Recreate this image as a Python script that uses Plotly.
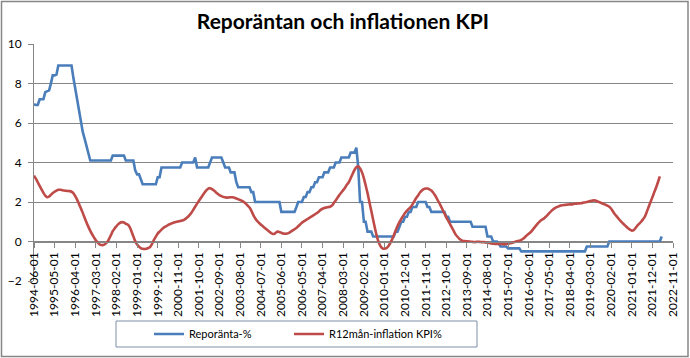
import plotly.graph_objects as go
import pandas as pd

TITLE = "Reporäntan och inflationen KPI"
SERIES_NAMES = ["Reporänta-%", "R12mån-inflation KPI%"]
START_MONTH = "1994-06-01"

# Reporänta (%), monthly from 1994-06
REPO = [
    6.95, 6.91, 6.91, 7.20, 7.20, 7.20, 7.56,                                   # 1994
    7.61, 7.65, 7.98, 8.41, 8.41, 8.45, 8.91, 8.91, 8.91, 8.91, 8.91, 8.91,     # 1995
    8.91, 8.91, 8.30, 7.70, 7.10, 6.55, 6.10, 5.55, 5.20, 4.85, 4.50, 4.10,     # 1996
    4.10, 4.10, 4.10, 4.10, 4.10, 4.10, 4.10, 4.10, 4.10, 4.10, 4.10, 4.35,     # 1997
    4.35, 4.35, 4.35, 4.35, 4.35, 4.35, 4.10, 4.10, 4.10, 4.10, 4.10, 3.60,     # 1998
    3.40, 3.40, 3.15, 2.90, 2.90, 2.90, 2.90, 2.90, 2.90, 2.90, 2.90, 3.25,     # 1999
    3.25, 3.75, 3.75, 3.75, 3.75, 3.75, 3.75, 3.75, 3.75, 3.75, 3.75, 3.75,     # 2000
    4.00, 4.00, 4.00, 4.00, 4.00, 4.00, 4.00, 4.25, 3.75, 3.75, 3.75, 3.75,     # 2001
    3.75, 3.75, 3.75, 4.00, 4.25, 4.25, 4.25, 4.25, 4.25, 4.25, 4.00, 3.75,     # 2002
    3.75, 3.75, 3.50, 3.50, 3.50, 3.00, 2.75, 2.75, 2.75, 2.75, 2.75, 2.75,     # 2003
    2.75, 2.50, 2.50, 2.00, 2.00, 2.00, 2.00, 2.00, 2.00, 2.00, 2.00, 2.00,     # 2004
    2.00, 2.00, 2.00, 2.00, 2.00, 1.50, 1.50, 1.50, 1.50, 1.50, 1.50, 1.50,     # 2005
    1.50, 1.75, 2.00, 2.00, 2.00, 2.25, 2.25, 2.50, 2.50, 2.75, 2.75, 3.00,     # 2006
    3.00, 3.25, 3.25, 3.25, 3.50, 3.50, 3.50, 3.75, 3.75, 3.75, 4.00, 4.00,     # 2007
    4.00, 4.25, 4.25, 4.25, 4.25, 4.25, 4.50, 4.50, 4.50, 4.75, 3.75, 2.00,     # 2008
    2.00, 1.00, 1.00, 0.50, 0.50, 0.50, 0.25, 0.25, 0.25, 0.25, 0.25, 0.25,     # 2009
    0.25, 0.25, 0.25, 0.25, 0.25, 0.25, 0.50, 0.50, 0.75, 1.00, 1.00, 1.25,     # 2010
    1.25, 1.50, 1.50, 1.75, 1.75, 1.75, 2.00, 2.00, 2.00, 2.00, 2.00, 1.75,     # 2011
    1.75, 1.50, 1.50, 1.50, 1.50, 1.50, 1.50, 1.50, 1.50, 1.25, 1.25, 1.00,     # 2012
    1.00, 1.00, 1.00, 1.00, 1.00, 1.00, 1.00, 1.00, 1.00, 1.00, 1.00, 0.75,     # 2013
    0.75, 0.75, 0.75, 0.75, 0.75, 0.75, 0.75, 0.25, 0.25, 0.25, 0.00, 0.00,     # 2014
    0.00, -0.10, -0.25, -0.25, -0.25, -0.25, -0.35, -0.35, -0.35, -0.35, -0.35, -0.35,  # 2015
    -0.35, -0.50, -0.50, -0.50, -0.50, -0.50, -0.50, -0.50, -0.50, -0.50, -0.50, -0.50,  # 2016
    -0.50, -0.50, -0.50, -0.50, -0.50, -0.50, -0.50, -0.50, -0.50, -0.50, -0.50, -0.50,  # 2017
    -0.50, -0.50, -0.50, -0.50, -0.50, -0.50, -0.50, -0.50, -0.50, -0.50, -0.50, -0.50,  # 2018
    -0.25, -0.25, -0.25, -0.25, -0.25, -0.25, -0.25, -0.25, -0.25, -0.25, -0.25, -0.25,  # 2019
    0.00, 0.00, 0.00, 0.00, 0.00, 0.00, 0.00, 0.00, 0.00, 0.00, 0.00, 0.00,     # 2020
    0.00, 0.00, 0.00, 0.00, 0.00, 0.00, 0.00, 0.00, 0.00, 0.00, 0.00, 0.00,     # 2021
    0.00, 0.00, 0.00, 0.00, 0.25,                                               # 2022
]

# R12mån-inflation KPI (%), monthly from 1994-06
KPI = [
    3.34, 3.18, 3.00, 2.82, 2.64, 2.46, 2.32,                                   # 1994
    2.24, 2.28, 2.36, 2.45, 2.52, 2.58, 2.62, 2.62, 2.60, 2.58, 2.57, 2.56,     # 1995
    2.55, 2.52, 2.45, 2.30, 2.12, 1.90, 1.68, 1.45, 1.20, 0.96, 0.74, 0.54,     # 1996
    0.36, 0.20, 0.06, -0.06, -0.14, -0.18, -0.18, -0.13, -0.04, 0.12, 0.32, 0.52,  # 1997
    0.66, 0.78, 0.88, 0.95, 0.98, 0.96, 0.90, 0.86, 0.74, 0.52, 0.26, 0.02,     # 1998
    -0.15, -0.26, -0.33, -0.37, -0.38, -0.37, -0.33, -0.27, -0.12, 0.08, 0.25, 0.40,  # 1999
    0.50, 0.60, 0.68, 0.75, 0.80, 0.86, 0.90, 0.94, 0.97, 1.00, 1.02, 1.04,     # 2000
    1.06, 1.10, 1.16, 1.24, 1.34, 1.46, 1.60, 1.76, 1.92, 2.06, 2.20, 2.34,     # 2001
    2.48, 2.60, 2.68, 2.70, 2.65, 2.58, 2.50, 2.42, 2.35, 2.30, 2.26, 2.24,     # 2002
    2.22, 2.23, 2.24, 2.24, 2.22, 2.18, 2.14, 2.10, 2.06, 2.00, 1.92, 1.82,     # 2003
    1.72, 1.55, 1.35, 1.18, 1.05, 0.95, 0.86, 0.78, 0.70, 0.62, 0.54, 0.46,     # 2004
    0.40, 0.38, 0.44, 0.50, 0.48, 0.44, 0.40, 0.39, 0.40, 0.44, 0.50, 0.56,     # 2005
    0.62, 0.68, 0.77, 0.86, 0.95, 1.02, 1.08, 1.14, 1.20, 1.26, 1.32, 1.38,     # 2006
    1.44, 1.52, 1.60, 1.66, 1.70, 1.72, 1.74, 1.76, 1.82, 1.95, 2.08, 2.22,     # 2007
    2.36, 2.48, 2.60, 2.72, 2.88, 3.00, 3.20, 3.42, 3.62, 3.76, 3.81, 3.70,     # 2008
    3.50, 3.20, 2.85, 2.45, 2.00, 1.55, 1.10, 0.65, 0.25, -0.05, -0.25, -0.35,  # 2009
    -0.37, -0.34, -0.25, -0.10, 0.08, 0.30, 0.55, 0.78, 0.98, 1.14, 1.30, 1.44,  # 2010
    1.56, 1.66, 1.74, 1.88, 2.04, 2.20, 2.33, 2.48, 2.58, 2.65, 2.68, 2.68,     # 2011
    2.64, 2.58, 2.48, 2.34, 2.17, 2.00, 1.82, 1.62, 1.42, 1.22, 1.06, 0.88,     # 2012
    0.70, 0.52, 0.36, 0.24, 0.14, 0.07, 0.03, 0.02, 0.01, 0.00, -0.01, -0.02,   # 2013
    -0.03, -0.02, -0.01, -0.02, -0.03, -0.03, -0.05, -0.07, -0.08, -0.10, -0.11, -0.12,  # 2014
    -0.12, -0.12, -0.12, -0.13, -0.14, -0.13, -0.11, -0.09, -0.07, -0.04, -0.01, 0.02,  # 2015
    0.04, 0.08, 0.14, 0.22, 0.31, 0.39, 0.47, 0.58, 0.70, 0.82, 0.93, 1.03,     # 2016
    1.10, 1.16, 1.24, 1.34, 1.44, 1.54, 1.62, 1.69, 1.74, 1.78, 1.82, 1.84,     # 2017
    1.85, 1.86, 1.87, 1.88, 1.88, 1.90, 1.91, 1.92, 1.93, 1.94, 1.96, 1.98,     # 2018
    2.00, 2.03, 2.05, 2.07, 2.08, 2.06, 2.02, 1.98, 1.94, 1.90, 1.86, 1.82,     # 2019
    1.76, 1.66, 1.52, 1.38, 1.27, 1.15, 1.04, 0.94, 0.85, 0.76, 0.67, 0.60,     # 2020
    0.55, 0.58, 0.68, 0.80, 0.90, 1.00, 1.12, 1.26, 1.50, 1.75, 2.00, 2.24,     # 2021
    2.50, 2.75, 3.00, 3.30,                                                     # 2022
]

TICK_LABELS = [
    "1994-06-01", "1995-05-01", "1996-04-01", "1997-03-01", "1998-02-01",
    "1999-01-01", "1999-12-01", "2000-11-01", "2001-10-01", "2002-09-01",
    "2003-08-01", "2004-07-01", "2005-06-01", "2006-05-01", "2007-04-01",
    "2008-03-01", "2009-02-01", "2010-01-01", "2010-12-01", "2011-11-01",
    "2012-10-01", "2013-09-01", "2014-08-01", "2015-07-01", "2016-06-01",
    "2017-05-01", "2018-04-01", "2019-03-01", "2020-02-01", "2021-01-01",
    "2021-12-01", "2022-11-01",
]
Y_TICKS = [-2, 0, 2, 4, 6, 8, 10]

COLORS = ["#4A7EBB", "#BE4B48"]
GRID = "#868686"
FONT = "Lato"

months_repo = pd.date_range(START_MONTH, periods=len(REPO), freq="MS")
months_kpi = pd.date_range(START_MONTH, periods=len(KPI), freq="MS")

W, H = 690, 358
ML, MR, MT, MB = 34, 17, 44, 77
PW, PH = W - ML - MR, H - MT - MB


def px_x(v):
    return (v - ML) / PW


def px_y(v):
    return (H - MB - v) / PH


fig = go.Figure()
fig.add_trace(go.Scatter(x=months_repo, y=REPO, name=SERIES_NAMES[0], mode="lines",
                         legendwidth=95,
                         line=dict(color=COLORS[0], width=2.6)))
fig.add_trace(go.Scatter(x=months_kpi, y=KPI, name=SERIES_NAMES[1], mode="lines",
                         legendwidth=130,
                         line=dict(color=COLORS[1], width=2.6, shape="spline", smoothing=0.6)))

fig.update_layout(
    width=W, height=H,
    margin=dict(l=ML, r=MR, t=MT, b=MB, autoexpand=False),
    paper_bgcolor="white", plot_bgcolor="white",
    font=dict(family=FONT, size=12, color="black"),
    title=dict(text=TITLE, x=0.497, xanchor="center", y=1 - 22 / H, yanchor="middle",
               font=dict(family=FONT, size=21, color="black", weight="bold")),
    showlegend=True,
    legend=dict(orientation="h", x=px_x(149), xanchor="left", y=px_y(334), yanchor="middle",
                font=dict(family=FONT, size=11, color="black"),
                bgcolor="rgba(0,0,0,0)"),
    xaxis=dict(type="date", range=[TICK_LABELS[0], TICK_LABELS[-1]], automargin=False,
               tickmode="array", tickvals=TICK_LABELS, ticktext=TICK_LABELS,
               tickangle=-90, ticks="outside", ticklen=5, tickcolor=GRID,
               showgrid=False, showline=True, linecolor=GRID, linewidth=1,
               zeroline=False, anchor="free", position=2 / 12,
               tickfont=dict(family=FONT, size=12, color="black")),
    yaxis=dict(range=[-2, 10], tickmode="array", tickvals=Y_TICKS, automargin=False,
               ticks="outside", ticklen=5, tickcolor=GRID,
               showgrid=True, gridcolor=GRID, gridwidth=1, zeroline=False,
               showline=True, linecolor=GRID, linewidth=1, ticklabelstandoff=4,
               tickfont=dict(family=FONT, size=12, color="black")),
    shapes=[
        dict(type="rect", xref="paper", yref="paper",
             x0=px_x(116), x1=px_x(477), y0=px_y(321), y1=px_y(347),
             line=dict(color="#7F8FA6", width=1), fillcolor="rgba(0,0,0,0)", layer="below"),
        dict(type="rect", xref="paper", yref="paper",
             x0=px_x(1.5), x1=px_x(688), y0=px_y(1.5), y1=px_y(356.5),
             line=dict(color="#868686", width=1.5), fillcolor="rgba(0,0,0,0)", layer="below"),
    ],
)

fig.write_html("out.html", config={"displayModeBar": False},
               post_script="document.body.style.margin='0';")
